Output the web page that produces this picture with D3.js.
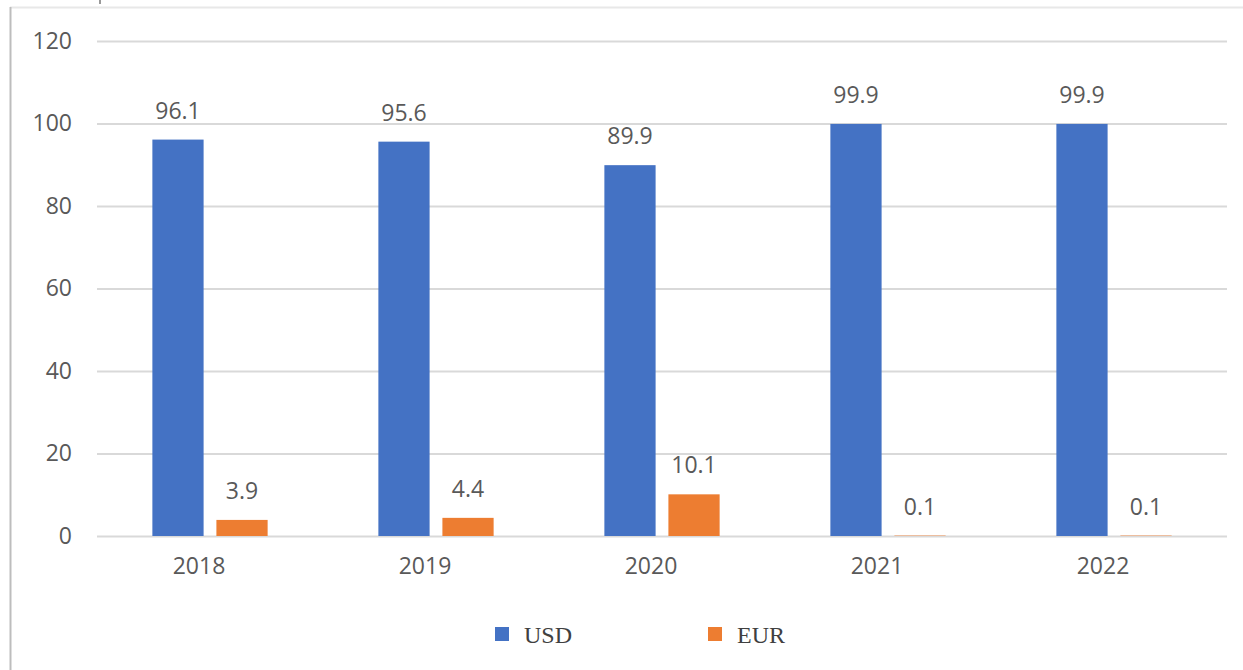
<!DOCTYPE html>
<html><head><meta charset="utf-8">
<script src="https://cdn.jsdelivr.net/npm/d3@7"></script>
<style>html,body{margin:0;padding:0;background:#fff;}svg{display:block;}</style>
</head><body>
<svg id="c" width="1243" height="670"></svg>
<script>
const years = ["2018","2019","2020","2021","2022"];
const seriesNames = ["USD","EUR"];
const usd = [96.1, 95.6, 89.9, 99.9, 99.9];
const eur = [3.9, 4.4, 10.1, 0.1, 0.1];
const yTicks = [0,20,40,60,80,100,120];
const colors = {USD:"#4472C4", EUR:"#ED7D31"};

const svg = d3.select("#c");
const plotL = 97, plotR = 1227, plotT = 41, plotB = 536;
const x = d3.scaleBand().domain(years).range([plotL,plotR]).paddingInner(0.49).paddingOuter(0.245);
const xs = d3.scaleBand().domain(seriesNames).range([0,x.bandwidth()]).paddingInner(0.2);
const y = d3.scaleLinear().domain([0,120]).range([plotB,plotT]);

// frame
svg.append("line").attr("x1",10).attr("x2",1243).attr("y1",7.5).attr("y2",7.5).attr("stroke","#e8e8e8").attr("stroke-width",2);
svg.append("line").attr("x1",10.5).attr("x2",10.5).attr("y1",7).attr("y2",670).attr("stroke","#bdbdbd").attr("stroke-width",2);
svg.append("line").attr("x1",100).attr("x2",100).attr("y1",0).attr("y2",4).attr("stroke","#777").attr("stroke-width",1.5);

const font = "'Open Sans', sans-serif";
// grid + y axis
const yAxis = d3.axisLeft(y).tickValues(yTicks).tickSize(-(plotR-plotL)).tickPadding(25);
const gy = svg.append("g").attr("transform",`translate(${plotL},0)`).call(yAxis);
gy.select(".domain").remove();
gy.selectAll(".tick line").attr("stroke","#d9d9d9").attr("stroke-width",2);
gy.selectAll(".tick text").attr("fill","#595959").attr("font-family",font).attr("font-size",23);

// x axis
const xAxis = d3.axisBottom(x).tickSize(0).tickPadding(22);
const gx = svg.append("g").attr("transform",`translate(0,${plotB})`).call(xAxis);
gx.select(".domain").remove();
gx.selectAll(".tick text").attr("fill","#595959").attr("font-family",font).attr("font-size",23).attr("dx",-11);

const data = years.map((yr,i)=>({year:yr, vals:[{s:"USD",v:usd[i]},{s:"EUR",v:eur[i]}]}));
const groups = svg.append("g").selectAll("g").data(data).join("g").attr("transform",d=>`translate(${x(d.year)},0)`);
groups.selectAll("rect").data(d=>d.vals).join("rect")
  .attr("x",d=>xs(d.s)).attr("width",xs.bandwidth())
  .attr("y",d=>y(d.v)).attr("height",d=>y(0)-y(d.v))
  .attr("fill",d=>colors[d.s]);
groups.selectAll("text").data(d=>d.vals).join("text")
  .attr("x",d=>xs(d.s)+xs.bandwidth()/2).attr("y",d=>y(d.v)-21)
  .attr("text-anchor","middle").attr("fill","#595959").attr("font-family",font).attr("font-size",23)
  .text(d=>d.v);

// legend
const legendX = {USD:495, EUR:708};
const lg = svg.append("g").selectAll("g").data(seriesNames).join("g");
lg.append("rect").attr("x",d=>legendX[d]).attr("y",627).attr("width",14).attr("height",14).attr("fill",d=>colors[d]);
lg.append("text").attr("x",d=>legendX[d]+29).attr("y",643).attr("font-family","'Liberation Serif', 'Times New Roman', serif")
  .attr("font-size",24).attr("fill","#404040").text(d=>d);
</script>
</body></html>
